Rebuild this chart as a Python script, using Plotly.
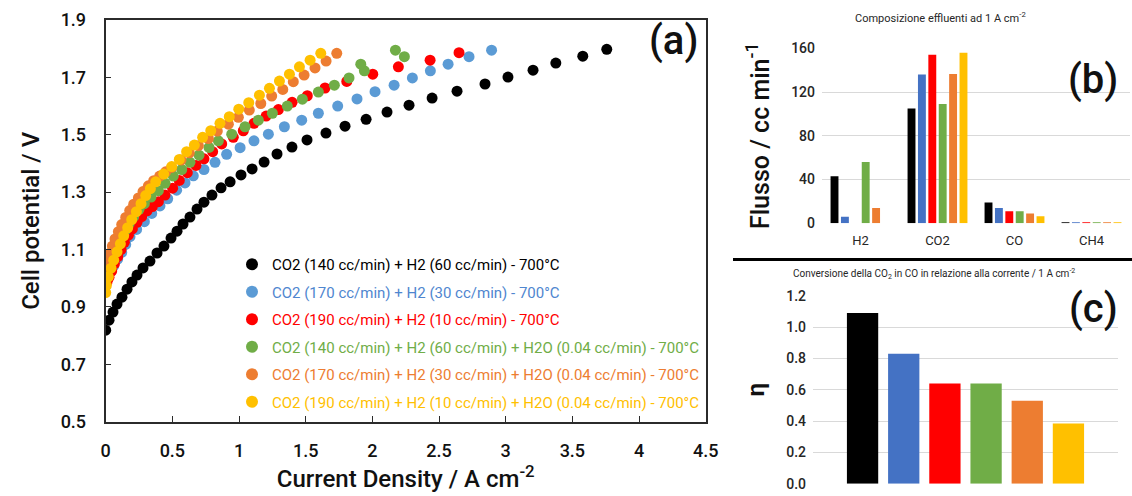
import plotly.graph_objects as go

# ---------------- Data: panel (a) polarisation curves ----------------
series_names = [
    "CO2 (140 cc/min) + H2 (60 cc/min) - 700°C",
    "CO2 (170 cc/min) + H2 (30 cc/min) - 700°C",
    "CO2 (190 cc/min) + H2 (10 cc/min) - 700°C",
    "CO2 (140 cc/min) + H2 (60 cc/min) + H2O (0.04 cc/min) - 700°C",
    "CO2 (170 cc/min) + H2 (30 cc/min) + H2O (0.04 cc/min) - 700°C",
    "CO2 (190 cc/min) + H2 (10 cc/min) + H2O (0.04 cc/min) - 700°C",
]
marker_colors = ["#000000", "#5B9BD5", "#FF0000", "#70AD47", "#ED7D31", "#FFC000"]
text_colors = ["#000000", "#4F86CF", "#FF0000", "#70AD47", "#ED7D31", "#FFC000"]
bar_colors = ["#000000", "#4472C4", "#FF0000", "#70AD47", "#ED7D31", "#FFC000"]

black_x = [0.0, 0.025, 0.055, 0.085, 0.122, 0.160, 0.197, 0.235, 0.280, 0.332, 0.385, 0.437, 0.490,
           0.535, 0.580, 0.632, 0.685, 0.737, 0.797, 0.865, 0.933, 1.015, 1.098, 1.188, 1.285, 1.397,
           1.510, 1.652, 1.795, 1.953, 2.110, 2.275, 2.448, 2.635, 2.845, 3.017, 3.205, 3.376, 3.578, 3.758]
black_y = [0.819, 0.854, 0.882, 0.910, 0.934, 0.962, 0.987, 1.011, 1.036, 1.060, 1.088, 1.112, 1.140,
           1.164, 1.189, 1.213, 1.241, 1.265, 1.290, 1.315, 1.336, 1.360, 1.381, 1.405, 1.433, 1.457,
           1.482, 1.506, 1.530, 1.554, 1.579, 1.603, 1.628, 1.652, 1.677, 1.701, 1.725, 1.750, 1.774, 1.798]

blue_x = [0.0, 0.01, 0.03, 0.06, 0.09, 0.12, 0.15, 0.182, 0.232, 0.290, 0.345, 0.407, 0.465, 0.532,
          0.595, 0.657, 0.737, 0.820, 0.907, 1.008, 1.112, 1.220, 1.340, 1.470, 1.595, 1.740, 1.885,
          2.020, 2.163, 2.300, 2.435, 2.568, 2.725, 2.894]
blue_y = [0.990, 1.002, 1.020, 1.043, 1.067, 1.090, 1.118, 1.145, 1.170, 1.197, 1.226, 1.252, 1.277, 1.307,
          1.332, 1.357, 1.379, 1.404, 1.432, 1.455, 1.479, 1.502, 1.528, 1.551, 1.575, 1.600, 1.625,
          1.650, 1.673, 1.698, 1.723, 1.746, 1.772, 1.795]

red_x = [0.0, 0.01, 0.025, 0.045, 0.065, 0.09, 0.115, 0.14, 0.17, 0.20, 0.235, 0.27, 0.31, 0.35, 0.395,
         0.445, 0.502, 0.552, 0.612, 0.677, 0.737, 0.802, 0.870, 0.957, 1.032, 1.112, 1.203, 1.295,
         1.398, 1.512, 1.645, 1.808, 2.003, 2.195, 2.433, 2.650]
red_y = [0.975, 0.988, 1.003, 1.025, 1.050, 1.075, 1.100, 1.125, 1.150, 1.172, 1.195, 1.215, 1.235, 1.250,
         1.267, 1.290, 1.314, 1.341, 1.368, 1.393, 1.416, 1.441, 1.468, 1.491, 1.514, 1.540, 1.565,
         1.588, 1.613, 1.636, 1.663, 1.686, 1.711, 1.737, 1.760, 1.786]

green_x = [0.0, 0.01, 0.025, 0.045, 0.065, 0.09, 0.115, 0.145, 0.175, 0.21, 0.25, 0.29, 0.34, 0.395,
           0.445, 0.507, 0.570, 0.632, 0.700, 0.775, 0.845, 0.945, 1.045, 1.145, 1.250, 1.362, 1.475,
           1.595, 1.715, 1.825, 1.940, 1.913, 2.240, 2.173]
green_y = [1.005, 1.020, 1.040, 1.065, 1.090, 1.115, 1.140, 1.165, 1.190, 1.215, 1.240, 1.260, 1.283, 1.305,
           1.331, 1.356, 1.379, 1.404, 1.429, 1.456, 1.479, 1.502, 1.528, 1.551, 1.575, 1.600, 1.624,
           1.649, 1.673, 1.698, 1.723, 1.746, 1.772, 1.795]

orange_x = [0.0, 0.005, 0.015, 0.03, 0.05, 0.07, 0.095, 0.12, 0.15, 0.18, 0.21, 0.245, 0.28, 0.32, 0.36,
            0.405, 0.45, 0.495, 0.565, 0.627, 0.695, 0.770, 0.837, 0.920, 0.995, 1.077, 1.163, 1.245,
            1.328, 1.407, 1.488, 1.570, 1.653, 1.733]
orange_y = [1.020, 1.040, 1.062, 1.087, 1.112, 1.137, 1.162, 1.187, 1.212, 1.236, 1.258, 1.280, 1.302,
            1.322, 1.340, 1.356, 1.371, 1.386, 1.412, 1.437, 1.462, 1.487, 1.513, 1.537, 1.561, 1.586,
            1.609, 1.635, 1.658, 1.685, 1.708, 1.733, 1.757, 1.784]

yellow_x = [0.0, 0.005, 0.02, 0.04, 0.06, 0.085, 0.11, 0.135, 0.165, 0.195, 0.23, 0.265, 0.30, 0.335,
            0.375, 0.435, 0.495, 0.552, 0.607, 0.665, 0.727, 0.788, 0.857, 0.927, 0.998, 1.073, 1.153,
            1.228, 1.303, 1.378, 1.453, 1.533, 1.613]
yellow_y = [0.950, 0.975, 1.005, 1.035, 1.063, 1.092, 1.120, 1.148, 1.176, 1.204, 1.232, 1.260, 1.288,
            1.312, 1.336, 1.363, 1.389, 1.414, 1.441, 1.464, 1.491, 1.514, 1.540, 1.563, 1.589, 1.612,
            1.638, 1.662, 1.687, 1.711, 1.737, 1.760, 1.784]

curves_x = [black_x, blue_x, red_x, green_x, orange_x, yellow_x]
curves_y = [black_y, blue_y, red_y, green_y, orange_y, yellow_y]

# ---------------- Data: panel (b) effluent composition ----------------
gas_categories = ["H2", "CO2", "CO", "CH4"]
flux_black = [43, 105, 19, 0.2]
flux_blue = [6, 136, 14, 0.2]
flux_red = [0, 154, 11, 0.1]
flux_green = [56, 109, 11, 0.1]
flux_orange = [14, 136.5, 9, 0.1]
flux_yellow = [0, 156, 6.5, 0.1]
fluxes = [flux_black, flux_blue, flux_red, flux_green, flux_orange, flux_yellow]
flux_ticks = [0, 40, 80, 120, 160]

# ---------------- Data: panel (c) CO2 -> CO conversion ----------------
eta_values = [1.09, 0.83, 0.64, 0.64, 0.53, 0.385]
eta_ticks = [0.0, 0.2, 0.4, 0.6, 0.8, 1.0, 1.2]

W, H = 1132, 496
FONT = "Roboto, Liberation Sans, sans-serif"


def px_x(p):
    return p / W


def px_y(p):
    return 1 - p / H


fig = go.Figure()

# (a) scatter series
for name, xs, ys, mc, tc in zip(series_names, curves_x, curves_y, marker_colors, text_colors):
    fig.add_trace(go.Scatter(
        x=xs, y=ys, mode="markers",
        name=f"<span style='color:{tc}'>{name}</span>",
        legendgroup=name,
        marker=dict(color=mc, size=11, line=dict(width=0)),
        xaxis="x", yaxis="y",
    ))

# (b) grouped bars
for vals, col in zip(fluxes, bar_colors):
    fig.add_trace(go.Bar(
        x=gas_categories, y=vals, marker=dict(color=col, line=dict(width=0)),
        showlegend=False, xaxis="x2", yaxis="y2",
    ))

# (c) one group of bars
for val, col in zip(eta_values, bar_colors):
    fig.add_trace(go.Bar(
        x=[0], y=[val], marker=dict(color=col, line=dict(width=0)),
        showlegend=False, xaxis="x3", yaxis="y3",
    ))

axis_line = "#2b2b2b"
title_font = dict(family=FONT, size=24, color="#111111", weight=500)
tick_font_a = dict(family=FONT, size=18, color="#111111", weight=500)

fig.update_layout(
    width=W, height=H,
    margin=dict(l=0, r=0, t=0, b=0, autoexpand=False),
    paper_bgcolor="white", plot_bgcolor="white",
    font=dict(family=FONT, color="#000000"),
    barmode="group", bargap=0.19, bargroupgap=0.24,
    showlegend=True,
    legend=dict(
        x=px_x(232), y=px_y(248), xanchor="left", yanchor="top",
        bgcolor="rgba(0,0,0,0)", borderwidth=0,
        font=dict(family=FONT, size=15),
        tracegroupgap=5, itemsizing="constant",
    ),
    # ---- panel (a)
    xaxis=dict(
        domain=[px_x(105.7), px_x(705.7)], range=[0, 4.5], automargin=False,
        tickvals=[0, 0.5, 1, 1.5, 2, 2.5, 3, 3.5, 4, 4.5],
        ticktext=["0", "0.5", "1", "1.5", "2", "2.5", "3", "3.5", "4", "4.5"],
        showgrid=False, zeroline=False,
        showline=True, linecolor=axis_line, linewidth=2, mirror=True,
        ticks="inside", ticklen=6, tickcolor=axis_line,
        tickfont=tick_font_a, ticklabelstandoff=12,
        title=dict(text="Current Density / A cm<sup>-2</sup>", standoff=8, font=title_font),
        anchor="y",
    ),
    yaxis=dict(
        domain=[px_y(421.7), px_y(20)], range=[0.5, 1.9], automargin=False,
        tickvals=[0.5, 0.7, 0.9, 1.1, 1.3, 1.5, 1.7, 1.9],
        ticktext=["0.5", "0.7", "0.9", "1.1", "1.3", "1.5", "1.7", "1.9"],
        showgrid=False, zeroline=False,
        showline=True, linecolor=axis_line, linewidth=2, mirror=True,
        ticks="inside", ticklen=5, tickcolor=axis_line,
        tickfont=tick_font_a, ticklabelstandoff=14,
        title=dict(text="Cell potential / V", standoff=14, font=title_font),
        anchor="x",
    ),
    # ---- panel (b)
    xaxis2=dict(
        domain=[px_x(822), px_x(1130)], type="category", automargin=False,
        showgrid=False, zeroline=False, showline=False, ticks="",
        tickfont=dict(family=FONT, size=13, color="#262626"), ticklabelstandoff=8,
        anchor="y2",
    ),
    yaxis2=dict(
        domain=[px_y(223.3), px_y(48.3)], range=[0, 160], tickvals=flux_ticks, automargin=False,
        showgrid=True, gridcolor="#D9D9D9", gridwidth=1, zeroline=False, showline=False,
        ticks="", tickfont=dict(family=FONT, size=14, color="#262626", weight=500),
        ticklabelstandoff=6,
        title=dict(text="Flusso / cc min<sup>-1</sup>", standoff=14,
                   font=dict(family=FONT, size=25, color="#111111", weight=500)),
        anchor="x2",
    ),
    # ---- panel (c)
    xaxis3=dict(
        domain=[px_x(813), px_x(1118)], range=[-0.5, 0.5], automargin=False,
        showgrid=False, zeroline=False, showline=False, showticklabels=False, ticks="",
        anchor="y3",
    ),
    yaxis3=dict(
        domain=[px_y(483.7), px_y(295.7)], range=[0, 1.2], tickvals=eta_ticks, automargin=False,
        tickformat=".1f",
        showgrid=True, gridcolor="#D9D9D9", gridwidth=1, zeroline=False, showline=False,
        ticks="", tickfont=dict(family=FONT, size=14, color="#262626", weight=500),
        ticklabelstandoff=6,
        title=dict(text="<b>η</b>", standoff=14,
                   font=dict(family=FONT, size=24, color="#111111")),
        anchor="x3",
    ),
)

annotations = [
    dict(text="(a)", x=px_x(673), y=px_y(41), font=dict(family=FONT, size=40, color="#111111", weight=500)),
    dict(text="(b)", x=px_x(1093), y=px_y(79), font=dict(family=FONT, size=40, color="#111111", weight=500)),
    dict(text="(c)", x=px_x(1093), y=px_y(308), font=dict(family=FONT, size=40, color="#111111", weight=500)),
    dict(text="Composizione effluenti ad 1 A cm<sup>-2</sup>", x=px_x(940), y=px_y(18),
         font=dict(family=FONT, size=11, color="#262626")),
    dict(text="Conversione della CO<sub>2</sub> in CO in relazione alla corrente / 1 A cm<sup>-2</sup>",
         x=px_x(934), y=px_y(274), font=dict(family=FONT, size=10, color="#262626")),
]
for a in annotations:
    a.update(xref="paper", yref="paper", xanchor="center", yanchor="middle", showarrow=False)
fig.update_layout(annotations=annotations)

fig.add_shape(type="line", xref="paper", yref="paper",
              x0=px_x(733), x1=1.0, y0=px_y(259.5), y1=px_y(259.5),
              line=dict(color="#000000", width=3))

fig.write_html("out.html", config={"displayModeBar": False},
               post_script="document.body.style.margin='0px';")
